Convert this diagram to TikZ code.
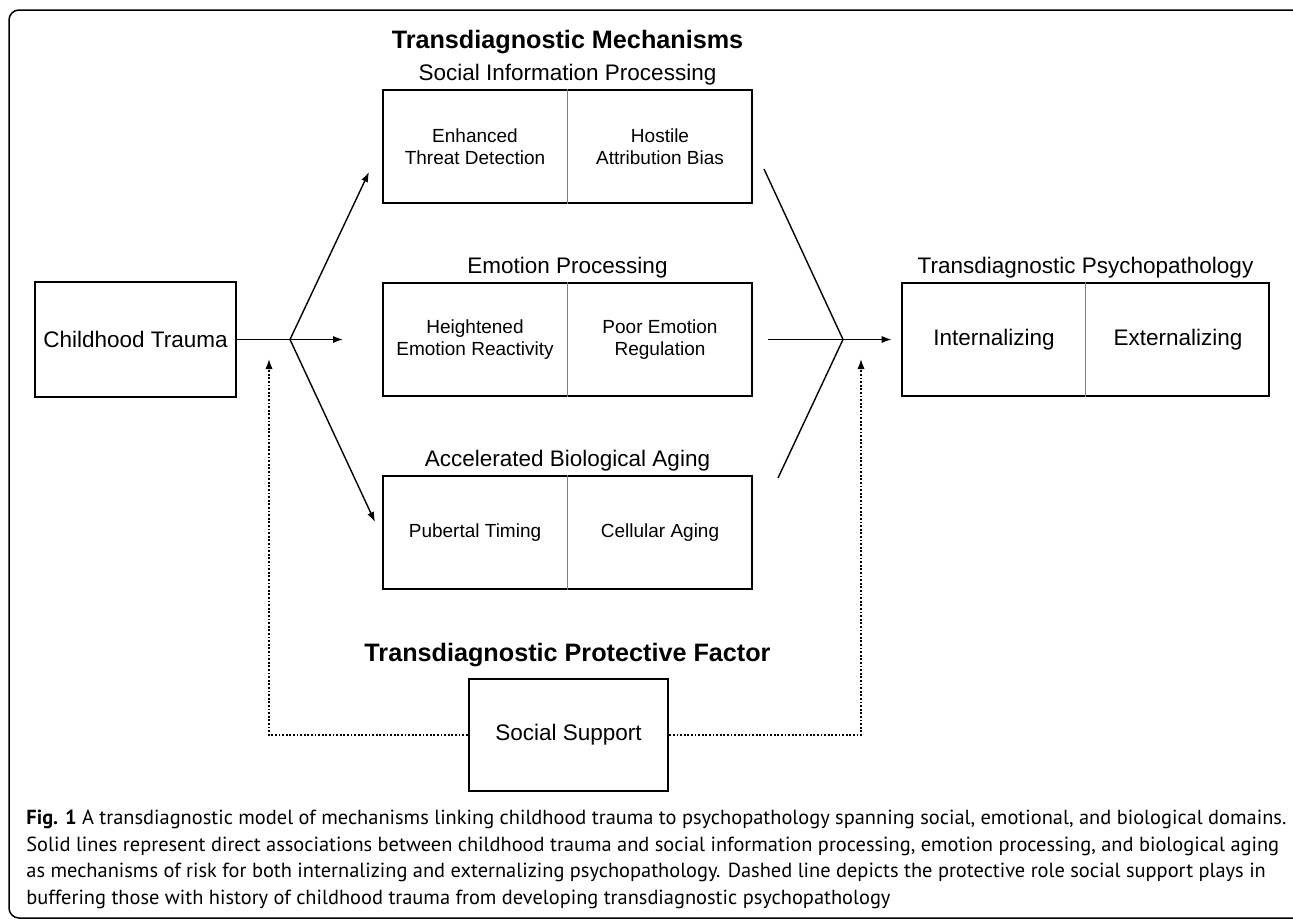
\documentclass[tikz,border=0pt]{standalone}
\usepackage{fontspec}
\setmainfont{Liberation Sans}
\newfontfamily\capfont{PT Sans}
\usetikzlibrary{arrows.meta}
\newcommand{\px}{0.5pt}

\begin{document}
\begin{tikzpicture}[x=\px, y=-\px,
    box/.style={draw, line width=1.4pt, inner sep=0pt, minimum width=184.5pt, minimum height=56.5pt},
    cell/.style={font=\fontsize{9.5}{10.9}\selectfont, align=center, inner sep=0pt},
    lbl/.style={font=\fontsize{11.25}{13}\selectfont, inner sep=0pt},
    head/.style={font=\fontsize{12.6}{14}\selectfont\bfseries, inner sep=0pt},
    split/.style={draw=gray, line width=0.5pt},
    link/.style={line width=0.7pt},
    path/.style={link, -{Latex[length=5pt, width=3.6pt]}},
    buffer/.style={path, dash pattern=on 0.9pt off 0.9pt}]
    \useasboundingbox (0,0) rectangle (1293,921);
    \draw[line width=0.75pt, rounded corners=5pt] (9,10) rectangle (1310,918);

    % Mechanisms
    \node[head] (mech-title) at (567.5,42) {Transdiagnostic Mechanisms};

    \node[lbl] (sip-title) at (567.5,75) {Social Information Processing};
    \node[box] (sip) at (567.5,146.5) {};
    \draw[split] (sip.north) -- (sip.south);
    \node[cell] (sip-l) at (475,146.5) {Enhanced\\Threat Detection};
    \node[cell] (sip-r) at (660,146.5) {Hostile\\Attribution Bias};

    \node[lbl] (ep-title) at (567.5,268) {Emotion Processing};
    \node[box] (ep) at (567.5,339.5) {};
    \draw[split] (ep.north) -- (ep.south);
    \node[cell] (ep-l) at (475,339.5) {Heightened\\Emotion Reactivity};
    \node[cell] (ep-r) at (660,339.5) {Poor Emotion\\Regulation};

    \node[lbl] (ba-title) at (567.5,461) {Accelerated Biological Aging};
    \node[box] (ba) at (567.5,532.5) {};
    \draw[split] (ba.north) -- (ba.south);
    \node[cell] (ba-l) at (475,532.5) {Pubertal Timing};
    \node[cell] (ba-r) at (660,532.5) {Cellular Aging};

    % Trauma and outcome
    \node[box, minimum width=100.5pt, minimum height=57.5pt, lbl] (ct) at (135.5,339.5) {Childhood Trauma};

    \node[lbl] (tp-title) at (1085.5,268) {Transdiagnostic Psychopathology};
    \node[box, minimum width=183.5pt] (tp) at (1085.5,339.5) {};
    \draw[split] (tp.north) -- (tp.south);
    \node[lbl] (tp-l) at (994,339.5) {Internalizing};
    \node[lbl] (tp-r) at (1178,339.5) {Externalizing};

    % Protective factor
    \node[head] (pf-title) at (567.5,655) {Transdiagnostic Protective Factor};
    \node[box, minimum width=99.5pt, minimum height=56pt, lbl] (ss) at (568.5,735) {Social Support};

    % Connectors
    \coordinate (fork-in) at (290,339.5);
    \coordinate (fork-out) at (843,339.5);
    \coordinate (in-sip) at (369,172);
    \coordinate (in-ep) at (343,339.5);
    \coordinate (in-ba) at (375,522);
    \coordinate (out-sip) at (764,169);
    \coordinate (out-ep) at (768,339.5);
    \coordinate (out-ba) at (778,478);
    \coordinate (buf-l) at (269,359);
    \coordinate (buf-r) at (861,359);

    \draw[path] (ct) -- (in-ep);
    \draw[path] (fork-in) -- (in-sip);
    \draw[path] (fork-in) -- (in-ba);
    \draw[link] (out-sip) -- (fork-out) -- (out-ba);
    \draw[path, shorten >=4.5pt] (out-ep) -- (tp);
    \draw[buffer] (ss) -| (buf-l);
    \draw[buffer] (ss) -| (buf-r);

    % Caption
    \node[anchor=north west, align=left, inner sep=0pt, font=\capfont\fontsize{10.2}{13.25}\selectfont] (caption) at (26,810)
      {\textbf{Fig. 1} A transdiagnostic model of mechanisms linking childhood trauma to psychopathology spanning social, emotional, and biological domains.\\
       Solid lines represent direct associations between childhood trauma and social information processing, emotion processing, and biological aging\\
       as mechanisms of risk for both internalizing and externalizing psychopathology. Dashed line depicts the protective role social support plays in\\
       buffering those with history of childhood trauma from developing transdiagnostic psychopathology};
\end{tikzpicture}
\end{document}
